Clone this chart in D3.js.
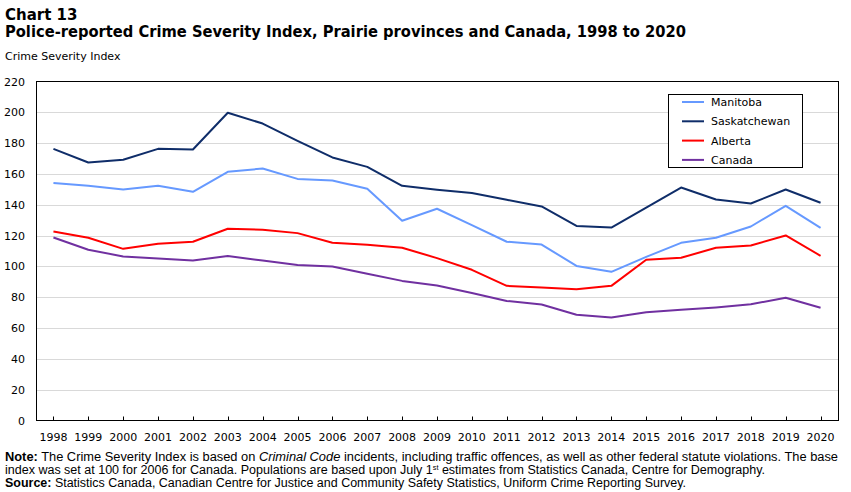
<!DOCTYPE html>
<html lang="en">
<head>
<meta charset="UTF-8">
<style>
  body { margin: 0; background: #fff; }
  svg text { fill: #000; }
</style>
</head>
<body>
<svg width="851" height="492"></svg>
<script src="https://d3js.org/d3.v7.min.js"></script>
<script>
// data
const years = ["1998","1999","2000","2001","2002","2003","2004","2005","2006","2007","2008",
               "2009","2010","2011","2012","2013","2014","2015","2016","2017","2018","2019","2020"];
const manitoba     = [154.2,152.3,149.9,152.3,148.4,161.4,163.5,156.8,155.7,150.4,129.6,137.4,126.8,116.0,114.2,100.3,96.5,106.2,115.3,118.6,125.9,139.3,125.0];
const saskatchewan = [176.3,167.4,169.2,176.3,175.9,199.7,192.7,181.5,170.7,164.6,152.3,149.7,147.6,143.2,138.9,126.3,125.2,138.2,151.2,143.4,140.8,149.9,141.3];
const alberta      = [122.7,118.6,111.4,114.7,116.0,124.4,123.8,121.6,115.3,114.0,112.1,105.4,97.8,87.4,86.3,85.2,87.4,104.3,105.6,112.1,113.6,120.1,106.9];
const canada       = [118.8,110.8,106.5,105.1,103.8,106.8,103.8,100.9,100.0,95.3,90.6,87.6,82.8,77.6,75.3,68.6,66.9,70.2,71.9,73.4,75.4,79.7,73.2];
const yTicks = d3.range(0, 221, 20);

const series = [
  { name: "Manitoba", values: manitoba, color: "#6699ff" },
  { name: "Saskatchewan", values: saskatchewan, color: "#0f2d69" },
  { name: "Alberta", values: alberta, color: "#ff0000" },
  { name: "Canada", values: canada, color: "#7030a0" }
];

const svg = d3.select("svg");
const font = "'DejaVu Sans', Verdana, sans-serif";
const plotL = 36, plotR = 838, plotT = 81.5, plotB = 420.5;

const x = d3.scalePoint().domain(years).range([plotL, plotR]).padding(0.5);
const y = d3.scaleLinear().domain([0, 220]).range([plotB, plotT]);

// titles
svg.append("text").attr("x", 5).attr("y", 19.5)
  .attr("font-family", font).attr("font-weight", "bold").attr("font-size", 15)
  .text("Chart 13");
svg.append("text").attr("x", 5).attr("y", 37)
  .attr("font-family", font).attr("font-weight", "bold").attr("font-size", 15)
  .attr("textLength", 681).attr("lengthAdjust", "spacingAndGlyphs")
  .text("Police-reported Crime Severity Index, Prairie provinces and Canada, 1998 to 2020");
svg.append("text").attr("x", 5).attr("y", 59.5)
  .attr("font-family", font).attr("font-size", 11)
  .text("Crime Severity Index");

// gridlines
svg.append("g").selectAll("line")
  .data(yTicks.filter(d => d > 0 && d < 220))
  .join("line")
  .attr("x1", plotL).attr("x2", plotR)
  .attr("y1", d => Math.round(y(d)) + 0.5).attr("y2", d => Math.round(y(d)) + 0.5)
  .attr("stroke", "#d9d9d9").attr("stroke-width", 1);

// y labels
svg.append("g").selectAll("text")
  .data(yTicks)
  .join("text")
  .attr("x", 25).attr("y", d => y(d) + 4)
  .attr("text-anchor", "end")
  .attr("font-family", font).attr("font-size", 11)
  .text(d => d);

// x ticks + labels
svg.append("g").selectAll("line")
  .data(years)
  .join("line")
  .attr("x1", d => Math.round(x(d)) + 0.5).attr("x2", d => Math.round(x(d)) + 0.5)
  .attr("y1", plotB).attr("y2", plotB - 4)
  .attr("stroke", "#000");
svg.append("g").selectAll("text")
  .data(years)
  .join("text")
  .attr("x", d => x(d)).attr("y", 441)
  .attr("text-anchor", "middle")
  .attr("font-family", font).attr("font-size", 11)
  .text(d => d);

// lines
const line = d3.line()
  .x((d, i) => x(years[i]))
  .y(d => y(d));

svg.append("g").selectAll("path")
  .data(series)
  .join("path")
  .attr("fill", "none")
  .attr("stroke", d => d.color)
  .attr("stroke-width", 2)
  .attr("stroke-linejoin", "round")
  .attr("d", d => line(d.values));

// plot frame
svg.append("rect")
  .attr("x", plotL + 0.5).attr("y", plotT).attr("width", plotR - plotL).attr("height", plotB - plotT)
  .attr("fill", "none").attr("stroke", "#000").attr("stroke-width", 1);

// legend
const lg = svg.append("g");
lg.append("rect")
  .attr("x", 668.5).attr("y", 94.5).attr("width", 134).attr("height", 73)
  .attr("fill", "#fff").attr("stroke", "#000");
const item = lg.selectAll("g.item")
  .data(series)
  .join("g")
  .attr("transform", (d, i) => `translate(0, ${102 + i * 19.3})`);
item.append("line")
  .attr("x1", 682).attr("x2", 704).attr("y1", 0).attr("y2", 0)
  .attr("stroke", d => d.color).attr("stroke-width", 2);
item.append("text")
  .attr("x", 711).attr("y", 4)
  .attr("font-family", font).attr("font-size", 11)
  .text(d => d.name);

// notes
const nf = "'Liberation Sans', Arial, sans-serif";
const n1 = svg.append("text").attr("x", 5).attr("y", 461).attr("font-family", nf).attr("font-size", 12)
  .attr("textLength", 833).attr("lengthAdjust", "spacingAndGlyphs");
n1.append("tspan").attr("font-weight", "bold").text("Note:");
n1.append("tspan").text(" The Crime Severity Index is based on ");
n1.append("tspan").attr("font-style", "italic").text("Criminal Code");
n1.append("tspan").text(" incidents, including traffic offences, as well as other federal statute violations. The base");

const n2 = svg.append("text").attr("x", 5).attr("y", 474).attr("font-family", nf).attr("font-size", 12)
  .attr("textLength", 760).attr("lengthAdjust", "spacingAndGlyphs");
n2.append("tspan").text("index was set at 100 for 2006 for Canada. Populations are based upon July 1");
n2.append("tspan").attr("font-size", 7).attr("dy", -4).text("st");
n2.append("tspan").attr("dy", 4).text(" estimates from Statistics Canada, Centre for Demography.");

const n3 = svg.append("text").attr("x", 5).attr("y", 487).attr("font-family", nf).attr("font-size", 12)
  .attr("textLength", 681).attr("lengthAdjust", "spacingAndGlyphs");
n3.append("tspan").attr("font-weight", "bold").text("Source:");
n3.append("tspan").text(" Statistics Canada, Canadian Centre for Justice and Community Safety Statistics, Uniform Crime Reporting Survey.");
</script>
</body>
</html>
